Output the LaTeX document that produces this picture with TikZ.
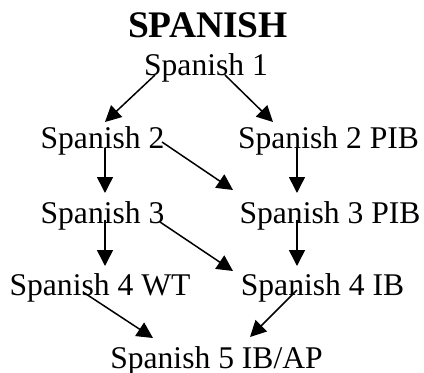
\documentclass[tikz,border=0pt]{standalone}
\usepackage{fontspec}
\setmainfont{Liberation Serif}
\usetikzlibrary{arrows.meta}
\begin{document}
\begin{tikzpicture}[x=1pt,y=-1pt,
  lbl/.style={inner sep=0pt,anchor=base,font=\fontsize{31.6}{32}\selectfont},
  ttl/.style={inner sep=0pt,anchor=base,font=\fontsize{37.5}{38}\selectfont\bfseries},
  conn/.style={line width=1.5pt,-{Triangle[length=16pt,width=16pt]}}]
\useasboundingbox (0,0) rectangle (424,373);
\node[ttl] (title) at (208,37) {SPANISH};
\node[lbl] (s1) at (206,75) {Spanish 1};
\node[lbl] (s2) at (102.5,148) {Spanish 2};
\node[lbl] (s2p) at (328.5,148) {Spanish 2 PIB};
\node[lbl] (s3) at (102.5,223) {Spanish 3};
\node[lbl] (s3p) at (330,223) {Spanish 3 PIB};
\node[lbl] (s4w) at (100,295) {Spanish 4 WT};
\node[lbl] (s4i) at (322.5,295) {Spanish 4 IB};
\node[lbl] (s5) at (216.5,368) {Spanish 5 IB/AP};
% arrow end points
\coordinate (a1s) at (155,75);  \coordinate (a1e) at (105,122);
\coordinate (a2s) at (225,75);  \coordinate (a2e) at (273,122);
\coordinate (a3s) at (105,148); \coordinate (a3e) at (105,193);
\coordinate (a4s) at (162,142); \coordinate (a4e) at (233,190);
\coordinate (a5s) at (297,148); \coordinate (a5e) at (297,193);
\coordinate (a6s) at (105,220); \coordinate (a6e) at (105,266);
\coordinate (a7s) at (160,222); \coordinate (a7e) at (233,271);
\coordinate (a8s) at (297,220); \coordinate (a8e) at (297,266);
\coordinate (a9s) at (83,292);  \coordinate (a9e) at (153,338);
\coordinate (a10s) at (297,290); \coordinate (a10e) at (250,337);
\draw[conn] (a1s) -- (a1e);
\draw[conn] (a2s) -- (a2e);
\draw[conn] (a3s) -- (a3e);
\draw[conn] (a4s) -- (a4e);
\draw[conn] (a5s) -- (a5e);
\draw[conn] (a6s) -- (a6e);
\draw[conn] (a7s) -- (a7e);
\draw[conn] (a8s) -- (a8e);
\draw[conn] (a9s) -- (a9e);
\draw[conn] (a10s) -- (a10e);
\end{tikzpicture}
\end{document}
